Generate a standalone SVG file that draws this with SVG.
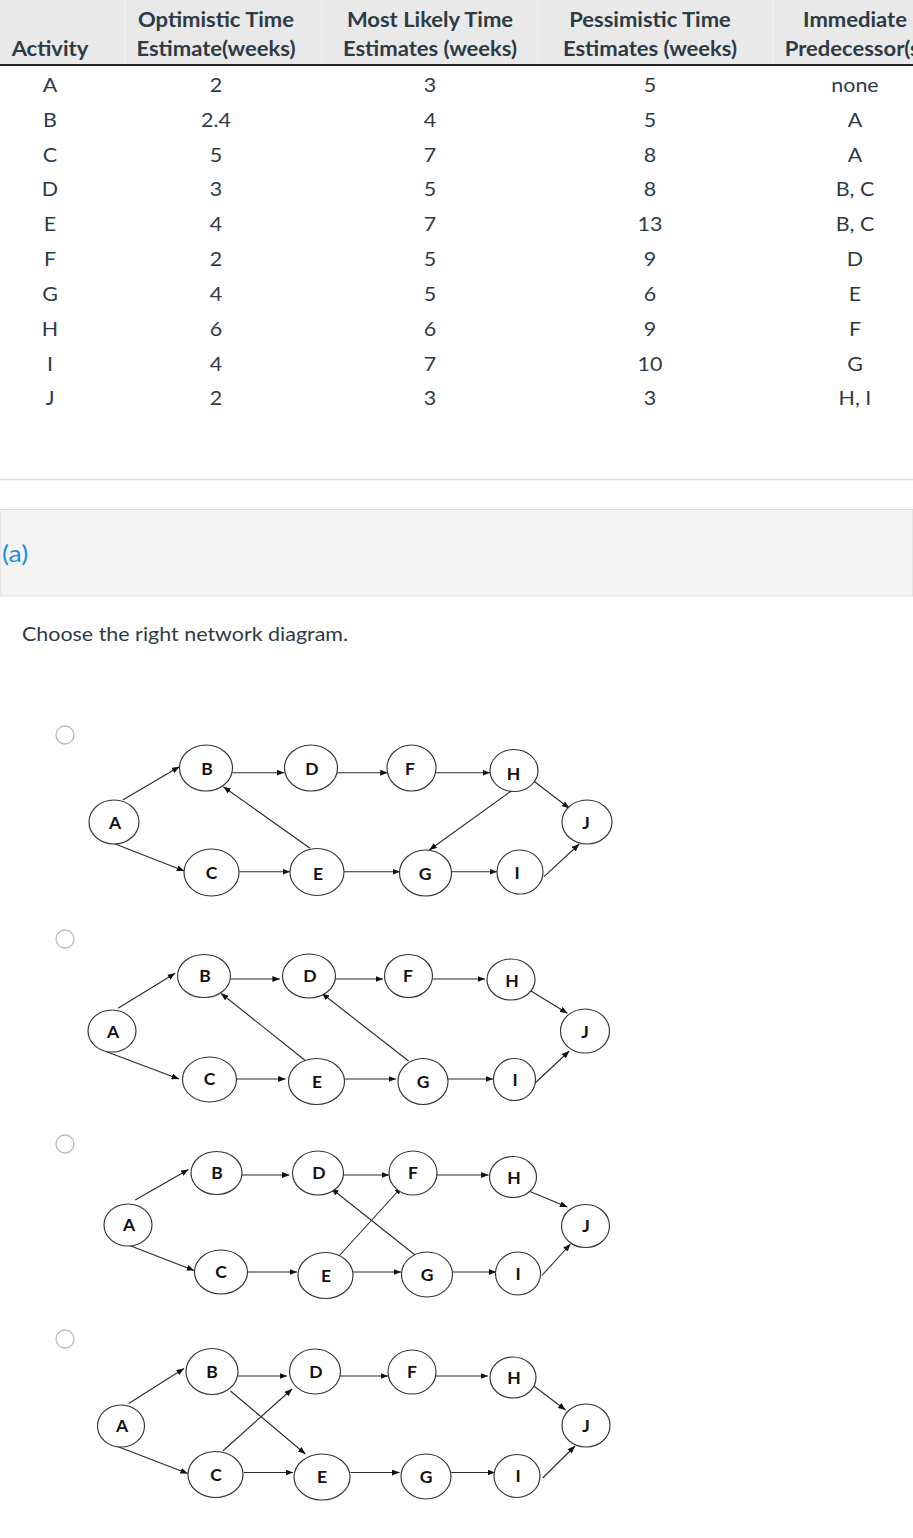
<svg xmlns="http://www.w3.org/2000/svg" width="913" height="1538" viewBox="0 0 913 1538">
<style>
.th{font-family:Lato,"Liberation Sans",sans-serif;font-weight:bold;font-size:20px;fill:#2d3b45;text-anchor:middle}
.td{font-family:Lato,"Liberation Sans",sans-serif;font-size:19.5px;fill:#2d3b45;text-anchor:middle}
.nd ellipse{fill:#fff;stroke:#333;stroke-width:1.15}
.nd text{font-family:Lato,"Liberation Sans",sans-serif;font-weight:bold;font-size:17.5px;fill:#111;text-anchor:middle}
.ed line{stroke:#2a2a2a;stroke-width:1.1;marker-end:url(#ah)}
.radio{fill:#fff;stroke:#b8b8b8;stroke-width:1.3}
</style>
<defs>
<marker id="ah" markerUnits="userSpaceOnUse" markerWidth="7.5" markerHeight="6" refX="7.5" refY="3" orient="auto">
<path d="M0,0 L7.5,3 L0,6 z" fill="#111"/>
</marker>
</defs>
<rect x="0" y="0" width="913" height="1538" fill="#fff"/>
<g id="table">
<rect x="0" y="0" width="913" height="64" fill="#e9e9e9"/>
<g stroke="#f2f2f2" stroke-width="1">
<line x1="125" y1="0" x2="125" y2="64"/>
<line x1="322" y1="0" x2="322" y2="64"/>
<line x1="538" y1="0" x2="538" y2="64"/>
<line x1="773" y1="0" x2="773" y2="64"/>
</g>
<rect x="0" y="64" width="913" height="2" fill="#222"/>
<g transform="scale(1.1 1)">
<text class="th" x="45.45" y="56">Activity</text>
<text class="th" x="196.36" y="27">Optimistic Time</text>
<text class="th" x="196.36" y="56">Estimate(weeks)</text>
<text class="th" x="390.91" y="27">Most Likely Time</text>
<text class="th" x="390.91" y="56">Estimates (weeks)</text>
<text class="th" x="590.91" y="27">Pessimistic Time</text>
<text class="th" x="590.91" y="56">Estimates (weeks)</text>
<text class="th" x="777.27" y="27">Immediate</text>
<text class="th" x="777.27" y="56">Predecessor(s)</text>
<text class="td" x="45.45" y="92">A</text><text class="td" x="196.36" y="92">2</text><text class="td" x="390.91" y="92">3</text><text class="td" x="590.91" y="92">5</text><text class="td" x="777.27" y="92">none</text>
<text class="td" x="45.45" y="127">B</text><text class="td" x="196.36" y="127">2.4</text><text class="td" x="390.91" y="127">4</text><text class="td" x="590.91" y="127">5</text><text class="td" x="777.27" y="127">A</text>
<text class="td" x="45.45" y="162">C</text><text class="td" x="196.36" y="162">5</text><text class="td" x="390.91" y="162">7</text><text class="td" x="590.91" y="162">8</text><text class="td" x="777.27" y="162">A</text>
<text class="td" x="45.45" y="196">D</text><text class="td" x="196.36" y="196">3</text><text class="td" x="390.91" y="196">5</text><text class="td" x="590.91" y="196">8</text><text class="td" x="777.27" y="196">B, C</text>
<text class="td" x="45.45" y="231">E</text><text class="td" x="196.36" y="231">4</text><text class="td" x="390.91" y="231">7</text><text class="td" x="590.91" y="231">13</text><text class="td" x="777.27" y="231">B, C</text>
<text class="td" x="45.45" y="266">F</text><text class="td" x="196.36" y="266">2</text><text class="td" x="390.91" y="266">5</text><text class="td" x="590.91" y="266">9</text><text class="td" x="777.27" y="266">D</text>
<text class="td" x="45.45" y="301">G</text><text class="td" x="196.36" y="301">4</text><text class="td" x="390.91" y="301">5</text><text class="td" x="590.91" y="301">6</text><text class="td" x="777.27" y="301">E</text>
<text class="td" x="45.45" y="336">H</text><text class="td" x="196.36" y="336">6</text><text class="td" x="390.91" y="336">6</text><text class="td" x="590.91" y="336">9</text><text class="td" x="777.27" y="336">F</text>
<text class="td" x="45.45" y="371">I</text><text class="td" x="196.36" y="371">4</text><text class="td" x="390.91" y="371">7</text><text class="td" x="590.91" y="371">10</text><text class="td" x="777.27" y="371">G</text>
<text class="td" x="45.45" y="405">J</text><text class="td" x="196.36" y="405">2</text><text class="td" x="390.91" y="405">3</text><text class="td" x="590.91" y="405">3</text><text class="td" x="777.27" y="405">H, I</text>
</g>
</g>
<line x1="0" y1="479.5" x2="913" y2="479.5" stroke="#dcdcdc" stroke-width="1.5"/>
<rect x="0" y="509.5" width="913" height="86.5" fill="#f4f4f4" stroke="#dadada" stroke-width="1"/>
<g transform="scale(1.1 1)">
<text x="1.8" y="562" font-family="Lato, 'Liberation Sans', sans-serif" font-size="24" fill="#1a8fe0">(a)</text>
<text x="20" y="641" font-family="Lato, 'Liberation Sans', sans-serif" font-size="19.5" fill="#2d3b45">Choose the right network diagram.</text>
</g>

<g id="radios">
<circle class="radio" cx="65" cy="735" r="9"/>
<circle class="radio" cx="65" cy="939" r="9"/>
<circle class="radio" cx="65" cy="1144" r="9"/>
<circle class="radio" cx="65" cy="1339" r="9"/>
</g>

<g id="d1-connectors" class="ed">
<line x1="122.7" y1="800" x2="179.3" y2="766.7"/>
<line x1="113.3" y1="843.3" x2="184.3" y2="871"/>
<line x1="232.7" y1="772.7" x2="284.3" y2="772.7"/>
<line x1="337.5" y1="772.7" x2="387.7" y2="772.7"/>
<line x1="436" y1="772.7" x2="490" y2="772.7"/>
<line x1="533.3" y1="780.7" x2="569.3" y2="808.3"/>
<line x1="511.7" y1="790.7" x2="429.3" y2="850"/>
<line x1="310" y1="848.3" x2="223.3" y2="786.7"/>
<line x1="239.3" y1="871.7" x2="290" y2="871.7"/>
<line x1="344" y1="871.7" x2="400" y2="871.7"/>
<line x1="451.7" y1="871.7" x2="497" y2="871.7"/>
<line x1="544" y1="876.7" x2="579.3" y2="844"/>
</g>
<g id="d1-A" class="nd"><ellipse cx="114" cy="822" rx="25" ry="22"/><text x="115" y="829">A</text></g>
<g id="d1-B" class="nd"><ellipse cx="206" cy="768" rx="26.5" ry="23"/><text x="207" y="775">B</text></g>
<g id="d1-C" class="nd"><ellipse cx="211.5" cy="872.5" rx="27.5" ry="23.5"/><text x="211.5" y="879">C</text></g>
<g id="d1-D" class="nd"><ellipse cx="311" cy="768" rx="26.5" ry="23"/><text x="312" y="775">D</text></g>
<g id="d1-E" class="nd"><ellipse cx="317" cy="872" rx="27" ry="23.5"/><text x="318" y="880">E</text></g>
<g id="d1-F" class="nd"><ellipse cx="411.5" cy="768" rx="24.5" ry="23"/><text x="410" y="775">F</text></g>
<g id="d1-G" class="nd"><ellipse cx="425.5" cy="873" rx="26" ry="23"/><text x="425" y="880">G</text></g>
<g id="d1-H" class="nd"><ellipse cx="514" cy="770.5" rx="24" ry="21"/><text x="513.5" y="780">H</text></g>
<g id="d1-I" class="nd"><ellipse cx="520" cy="872" rx="23" ry="22"/><text x="517" y="879">I</text></g>
<g id="d1-J" class="nd"><ellipse cx="587" cy="822" rx="25" ry="22"/><text x="586" y="829">J</text></g>

<g id="d2-connectors" class="ed">
<line x1="118" y1="1008.3" x2="175.2" y2="973.3"/>
<line x1="106.6" y1="1051.7" x2="179" y2="1079"/>
<line x1="230.4" y1="979" x2="279.9" y2="979"/>
<line x1="335" y1="979" x2="383" y2="979"/>
<line x1="432.5" y1="979" x2="485" y2="979"/>
<line x1="529.3" y1="990" x2="567.4" y2="1013.3"/>
<line x1="236.7" y1="1079" x2="285.6" y2="1079"/>
<line x1="344.6" y1="1079" x2="396" y2="1079"/>
<line x1="447.7" y1="1079" x2="493" y2="1079"/>
<line x1="533" y1="1085" x2="569.3" y2="1051"/>
<line x1="304.7" y1="1060" x2="220.9" y2="993.3"/>
<line x1="408.6" y1="1061" x2="321.8" y2="993.3"/>
</g>
<g id="d2-A" class="nd"><ellipse cx="112" cy="1031" rx="24" ry="21"/><text x="113" y="1038">A</text></g>
<g id="d2-B" class="nd"><ellipse cx="204" cy="976" rx="26.5" ry="21.5"/><text x="205" y="982">B</text></g>
<g id="d2-C" class="nd"><ellipse cx="209.5" cy="1079.5" rx="27" ry="22.5"/><text x="209.5" y="1085">C</text></g>
<g id="d2-D" class="nd"><ellipse cx="309" cy="976" rx="26.5" ry="22"/><text x="310" y="982">D</text></g>
<g id="d2-E" class="nd"><ellipse cx="316.5" cy="1081.5" rx="28" ry="23"/><text x="317" y="1088">E</text></g>
<g id="d2-F" class="nd"><ellipse cx="408.5" cy="976" rx="24" ry="21.5"/><text x="408" y="982">F</text></g>
<g id="d2-G" class="nd"><ellipse cx="423" cy="1081.5" rx="25" ry="23"/><text x="423" y="1088">G</text></g>
<g id="d2-H" class="nd"><ellipse cx="511" cy="979.5" rx="24" ry="20.5"/><text x="512" y="987">H</text></g>
<g id="d2-I" class="nd"><ellipse cx="514.5" cy="1079.5" rx="21" ry="21"/><text x="515" y="1086">I</text></g>
<g id="d2-J" class="nd"><ellipse cx="585" cy="1031" rx="24.5" ry="22"/><text x="585" y="1038">J</text></g>

<g id="d3-connectors" class="ed">
<line x1="135.2" y1="1200" x2="188.5" y2="1169.5"/>
<line x1="125.7" y1="1244" x2="194.2" y2="1270.5"/>
<line x1="241.8" y1="1175" x2="289.4" y2="1175"/>
<line x1="343" y1="1175" x2="389" y2="1175"/>
<line x1="437" y1="1175" x2="488.6" y2="1175"/>
<line x1="527.4" y1="1190.5" x2="567.4" y2="1207"/>
<line x1="247.5" y1="1272" x2="297" y2="1272"/>
<line x1="352.3" y1="1272" x2="401" y2="1272"/>
<line x1="452.4" y1="1272" x2="496.2" y2="1272"/>
<line x1="541.9" y1="1275.5" x2="570.5" y2="1244"/>
<line x1="336.3" y1="1259" x2="401.8" y2="1187"/>
<line x1="415.1" y1="1255" x2="331.3" y2="1188.5"/>
</g>
<g id="d3-A" class="nd"><ellipse cx="128" cy="1225" rx="24" ry="21"/><text x="129" y="1231">A</text></g>
<g id="d3-B" class="nd"><ellipse cx="216.5" cy="1173" rx="25.5" ry="21.5"/><text x="217" y="1179">B</text></g>
<g id="d3-C" class="nd"><ellipse cx="221" cy="1272" rx="26.5" ry="22"/><text x="221" y="1278">C</text></g>
<g id="d3-D" class="nd"><ellipse cx="318" cy="1173" rx="25.5" ry="22"/><text x="319" y="1179">D</text></g>
<g id="d3-E" class="nd"><ellipse cx="325.5" cy="1275.5" rx="27.5" ry="23"/><text x="326" y="1282">E</text></g>
<g id="d3-F" class="nd"><ellipse cx="413" cy="1173" rx="24" ry="22"/><text x="413" y="1179">F</text></g>
<g id="d3-G" class="nd"><ellipse cx="427" cy="1274.5" rx="25.5" ry="22.5"/><text x="427" y="1281">G</text></g>
<g id="d3-H" class="nd"><ellipse cx="513" cy="1177" rx="23.5" ry="20.5"/><text x="514" y="1184">H</text></g>
<g id="d3-I" class="nd"><ellipse cx="518" cy="1273.5" rx="22.5" ry="21.5"/><text x="518" y="1280">I</text></g>
<g id="d3-J" class="nd"><ellipse cx="585.5" cy="1226" rx="24" ry="21.5"/><text x="586" y="1232">J</text></g>

<g id="d4-connectors" class="ed">
<line x1="128.7" y1="1403.5" x2="184" y2="1368.5"/>
<line x1="116.2" y1="1446" x2="187.8" y2="1473.5"/>
<line x1="237.3" y1="1376" x2="287" y2="1376"/>
<line x1="340" y1="1376" x2="388" y2="1376"/>
<line x1="436" y1="1376" x2="488" y2="1376"/>
<line x1="531.2" y1="1384" x2="565.5" y2="1410"/>
<line x1="243.7" y1="1472.5" x2="293" y2="1472.5"/>
<line x1="350.4" y1="1472.5" x2="399.5" y2="1472.5"/>
<line x1="451.3" y1="1472.5" x2="495" y2="1472.5"/>
<line x1="542.7" y1="1478" x2="575" y2="1446"/>
<line x1="230.4" y1="1391" x2="305.4" y2="1454"/>
<line x1="222.8" y1="1451" x2="292.1" y2="1389"/>
</g>
<g id="d4-A" class="nd"><ellipse cx="121" cy="1426" rx="23.5" ry="21"/><text x="122" y="1432">A</text></g>
<g id="d4-B" class="nd"><ellipse cx="212" cy="1371.5" rx="26" ry="23"/><text x="212" y="1378">B</text></g>
<g id="d4-C" class="nd"><ellipse cx="215.5" cy="1474.5" rx="27.5" ry="23"/><text x="216" y="1481">C</text></g>
<g id="d4-D" class="nd"><ellipse cx="315" cy="1371.5" rx="25.5" ry="22.5"/><text x="316" y="1378">D</text></g>
<g id="d4-E" class="nd"><ellipse cx="322" cy="1477" rx="28" ry="23"/><text x="322" y="1483">E</text></g>
<g id="d4-F" class="nd"><ellipse cx="412" cy="1372" rx="24" ry="22"/><text x="412" y="1378">F</text></g>
<g id="d4-G" class="nd"><ellipse cx="426" cy="1476.5" rx="25" ry="22.5"/><text x="426" y="1483">G</text></g>
<g id="d4-H" class="nd"><ellipse cx="513" cy="1377.5" rx="23" ry="20.5"/><text x="514" y="1384">H</text></g>
<g id="d4-I" class="nd"><ellipse cx="517" cy="1476" rx="23" ry="21.5"/><text x="518" y="1482">I</text></g>
<g id="d4-J" class="nd"><ellipse cx="586" cy="1425.5" rx="24" ry="21.5"/><text x="586" y="1432">J</text></g>
</svg>
